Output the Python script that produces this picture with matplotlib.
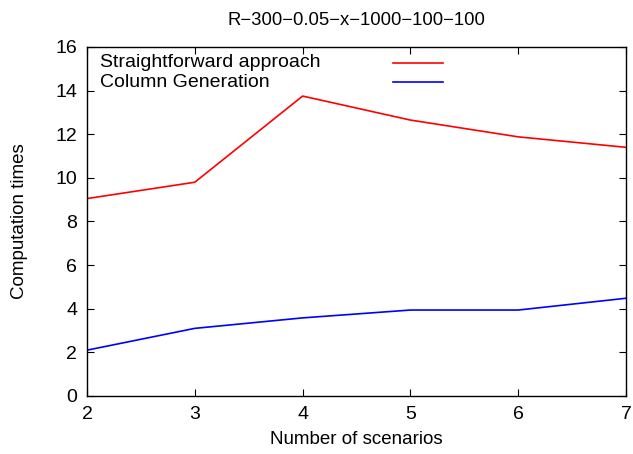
import matplotlib
matplotlib.use("Agg")
import matplotlib.pyplot as plt

scenarios = [2, 3, 4, 5, 6, 7]
straightforward = [9.05, 9.8, 13.75, 12.65, 11.88, 11.4]
column_generation = [2.1, 3.1, 3.58, 3.94, 3.94, 4.48]
series_names = ["Straightforward approach", "Column Generation"]
series_colors = ["#ff0000", "#0000ff"]

plt.rcParams["font.family"] = ["Liberation Sans", "DejaVu Sans"]

fig = plt.figure(figsize=(6.33, 4.54), dpi=100)
ax = fig.add_axes([0.1374, 0.1278, 0.8516, 0.7687])

for ys, name, col in zip([straightforward, column_generation], series_names, series_colors):
    ax.plot(scenarios, ys, color=col, lw=1.2, label=name)

ax.set_xlim(2, 7)
ax.set_ylim(0, 16)
ax.set_xticks(scenarios)
ax.set_yticks(range(0, 17, 2))
ax.tick_params(direction="in", top=True, right=True, length=5, width=0.8,
               labelsize=14, pad=7, colors="black")
for s in ax.spines.values():
    s.set_linewidth(1.0)

ax.set_xlabel("Number of scenarios", fontsize=13.5, labelpad=6)
ax.set_ylabel("Computation times", fontsize=13.5, labelpad=20)
ax.set_title("R\u2212300\u22120.05\u2212x\u22121000\u2212100\u2212100", fontsize=13.3, pad=16)

# gnuplot-style key: left-justified text, sample line on the right
key_rows = [0.955, 0.899]
for y, name, col in zip(key_rows, series_names, series_colors):
    ax.text(0.024, y, name, transform=ax.transAxes, fontsize=14,
            ha="left", va="center")
    ax.plot([0.568, 0.660], [y, y], transform=ax.transAxes, color=col, lw=1.2)

fig.savefig("out.png", dpi=100)
